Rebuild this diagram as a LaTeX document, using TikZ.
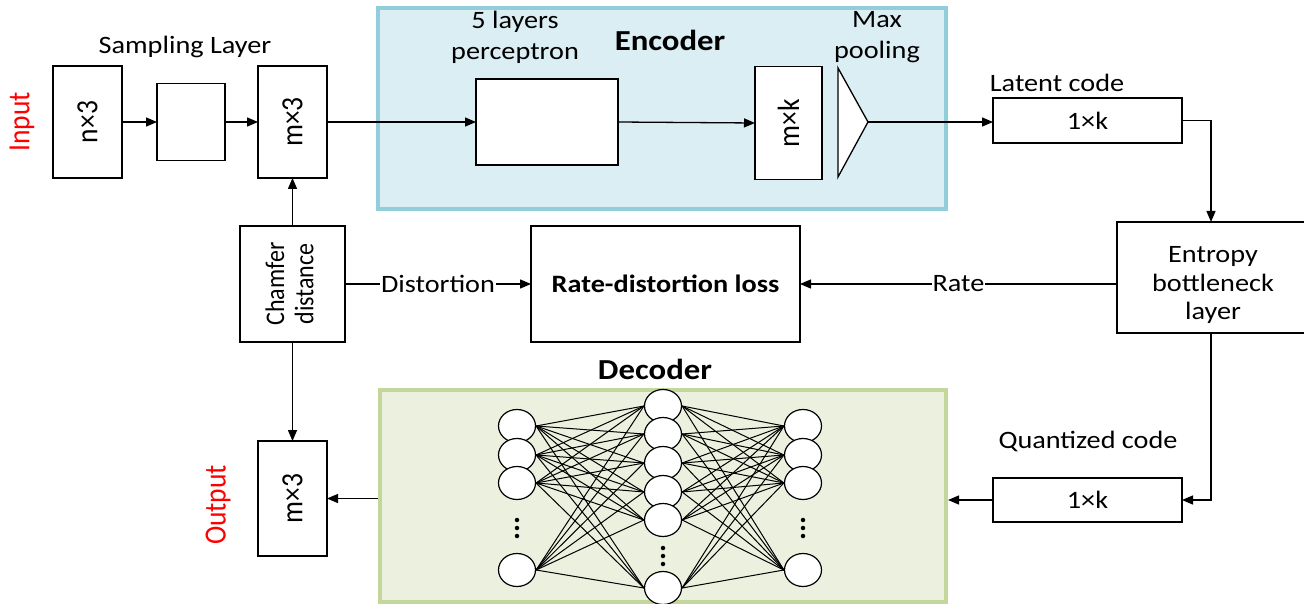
\documentclass[tikz,border=0pt]{standalone}
\usepackage{fontspec}
\setmainfont{Carlito}[FakeStretch=1.13]
\newfontfamily\rotfont{Carlito}
\usetikzlibrary{arrows.meta,shapes.geometric}
\definecolor{encfill}{HTML}{DBEEF4}
\definecolor{encline}{HTML}{92CDDC}
\definecolor{decfill}{HTML}{EBF1DE}
\definecolor{decline}{HTML}{C3D69B}
\newcommand{\vtext}[1]{\rotatebox{90}{\scalebox{1}[1.12]{#1}}}
\begin{document}
\begin{tikzpicture}[x=1pt,y=-1pt,
 box/.style={draw,line width=1.3pt,fill=white,inner sep=0pt,outer sep=0pt},
 lbl/.style={font=\fontsize{25}{31}\selectfont,inner sep=0pt,align=center},
 ttl/.style={font=\fontsize{29}{34}\selectfont\bfseries,inner sep=0pt},
 rtxt/.style={font=\rotfont\fontsize{27.5}{30}\selectfont},
 redlbl/.style={font=\rotfont\fontsize{27.5}{30}\selectfont,text=red,inner sep=0pt},
 arr/.style={line width=1.3pt,-{Triangle[length=11pt,width=9pt]}},
 ln/.style={line width=1.3pt},
 neuron/.style={draw,ellipse,fill=white,line width=1.2pt,minimum width=37pt,minimum height=33pt,inner sep=0pt},
 syn/.style={line width=1pt},
 dotn/.style={circle,fill=black,minimum size=4.5pt,inner sep=0pt}
]
\useasboundingbox (0,0) rectangle (1304,604);
% backgrounds
\node[draw=encline,fill=encfill,line width=4pt,minimum width=568pt,minimum height=201pt,inner sep=0pt] (enc) at (662,108.5) {};
\node[draw=decline,fill=decfill,line width=4pt,minimum width=566pt,minimum height=212pt,inner sep=0pt] (dec) at (663,496) {};
% labels
\node[redlbl] (inlbl) at (22,122) {\vtext{Input}};
\node[redlbl] (outlbl) at (218,505) {\vtext{Output}};
\node[lbl] (samplbl) at (185,47) {Sampling Layer};
\node[lbl] (perclbl) at (515,37.5) {5 layers\\perceptron};
\node[ttl] (enclbl) at (670,40) {Encoder};
\node[lbl] (poollbl) at (877,37.5) {Max\\pooling};
\node[lbl] (latlbl) at (1057,83) {Latent code};
\node[lbl] (qlbl) at (1088,441) {Quantized code};
\node[ttl] (declbl) at (655,369) {Decoder};
% boxes
\node[box,rtxt,minimum width=69pt,minimum height=112pt] (nx3) at (87.5,122) {\vtext{n×3}};
\node[box,minimum width=68pt,minimum height=77pt] (samp) at (191,122) {};
\node[box,rtxt,minimum width=69pt,minimum height=112pt] (mx3) at (292.5,122) {\vtext{m×3}};
\node[box,minimum width=142pt,minimum height=86pt] (perc) at (547,122) {};
\node[box,rtxt,minimum width=67pt,minimum height=113pt] (mxk) at (788.5,123) {\vtext{m×k}};
\draw[ln,fill=white] (838,68) -- (868,122) -- (838,177) -- cycle;
\coordinate (pool) at (868,122);
\node[box,minimum width=189pt,minimum height=45pt,font=\fontsize{25}{30}\selectfont] (lat) at (1087.5,120.5) {1×k};
\node[box,minimum width=188pt,minimum height=111pt] (ent) at (1211,277.5) {};
\node[lbl,font=\fontsize{25}{28.5}\selectfont] (enttxt) at (1213,285) {Entropy\\bottleneck\\layer};
\node[box,minimum width=269pt,minimum height=116pt,font=\fontsize{25}{30}\selectfont\bfseries] (rd) at (665.5,284) {Rate-distortion loss};
\node[box,minimum width=105pt,minimum height=116pt,font=\rotfont\fontsize{24}{28}\selectfont] (cham) at (292.5,284) {\vtext{\begin{tabular}{@{}c@{}}Chamfer\\[-2pt]distance\end{tabular}}};
\node[box,rtxt,minimum width=69pt,minimum height=115pt] (out) at (292.5,498.5) {\vtext{m×3}};
\node[box,minimum width=189pt,minimum height=44pt,font=\fontsize{25}{30}\selectfont] (q) at (1087.5,500) {1×k};
% connectors
\draw[arr] (nx3.east) -- (samp.west);
\draw[arr] (samp.east) -- (mx3.west);
\draw[arr] (mx3.east) -- (perc.west);
\draw[arr] (perc.east) -- (mxk.west);
\draw[arr] (pool) -- (pool -| lat.west);
\draw[arr] (lat.east) -| (ent.north);
\draw[arr] (rd.east -| ent.west) -- node[lbl,fill=white,inner xsep=1pt,pos=0.5] (ratelbl) {Rate} (rd.east);
\draw[arr] (cham.east) -- node[lbl,fill=white,inner xsep=1pt,pos=0.5] (distlbl) {Distortion} (rd.west);
\draw[arr] (cham.north) -- (mx3.south);
\draw[arr] (cham.south) -- (out.north);
\draw[arr] (ent.south) |- (q.east);
\draw[arr] (q.west) -- (q.west -| dec.east);
\draw[arr] (dec.west |- out.east) -- (out.east);
% network
\foreach \i/\yy in {1/426,2/455,3/483,4/570} {
  \node[neuron] (nL\i) at (517,\yy) {};
  \node[neuron] (nR\i) at (803,\yy) {};
}
\foreach \j/\yy in {1/406,2/434,3/463,4/492,5/520,6/588} {
  \node[neuron] (nM\j) at (663,\yy) {};
}
\foreach \i in {1,...,4} {
  \foreach \j in {1,...,6} {
    \draw[syn] (nL\i.east) -- (nM\j.west);
    \draw[syn] (nM\j.east) -- (nR\i.west);
  }
}
\foreach \yy in {520,528,536} {
  \node[dotn] at (517,\yy) {};
  \node[dotn] at (803,\yy) {};
}
\foreach \yy in {548,556,564} {
  \node[dotn] at (663,\yy) {};
}
\end{tikzpicture}
\end{document}
